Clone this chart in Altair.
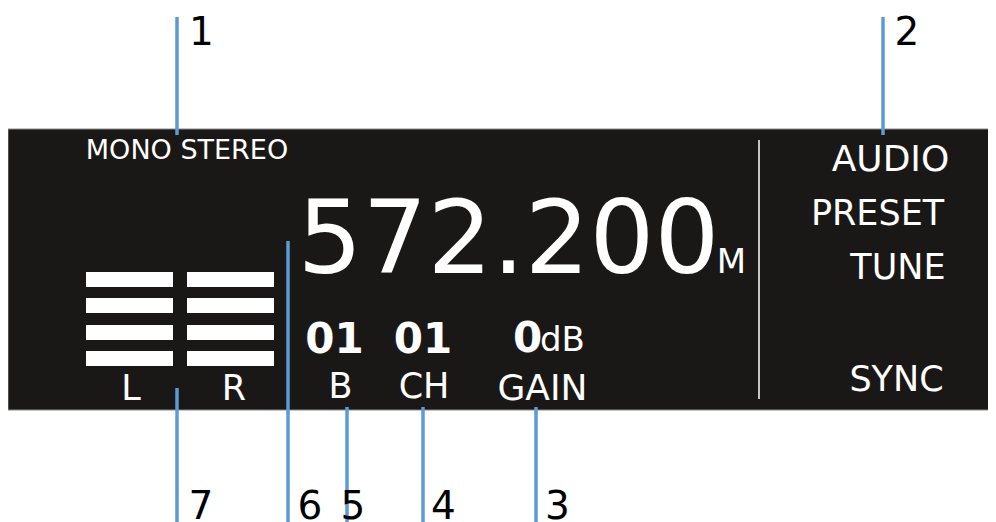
import altair as alt
import pandas as pd

# ---- display panel ----
panel_x = [8, 996]
panel_y = [129, 410]
divider_x = [759]
divider_y = [140, 399]

# ---- level meter segments (L and R columns, four rows each) ----
meter_x0 = [86, 187]
meter_x1 = [173, 274]
meter_row_top = [272, 298, 325, 351]
meter_row_bottom = [287, 313, 340, 366]

# ---- regular display texts (centred) ----
reg_text = ["MONO STEREO", "L", "R", "572.200", "M", "B", "CH", "GAIN",
            "AUDIO", "PRESET", "TUNE", "SYNC"]
reg_x = [187, 131, 234, 508.5, 731.5, 340.5, 424, 542.5, 890.5, 877.5, 898, 896.5]
reg_y = [159, 400, 400, 273, 273, 398, 398, 400, 171, 225, 279, 391]
reg_size = [27, 35, 35, 102, 34, 35, 35, 36, 36, 35, 35, 35]

# ---- unit text after the gain value (left aligned) ----
unit_text = ["dB"]
unit_x = [540]
unit_y = [351]
unit_size = [34]

# ---- bold display texts ----
bold_text = ["01", "01", "0"]
bold_x = [334.5, 423, 527.5]
bold_y = [353, 353, 352]
bold_size = [42, 42, 42]

# ---- callouts ----
callout_num = ["1", "2", "3", "4", "5", "6", "7"]
callout_line_x = [177, 883, 536, 423, 347, 288, 177]
callout_line_y0 = [17, 17, 407, 407, 407, 241, 388]
callout_line_y1 = [135, 135, 522, 522, 522, 522, 522]
callout_text_x = [201.5, 907, 557.5, 443.5, 353, 310, 201]
callout_text_y = [45, 45, 519, 519, 519, 519, 519]

FONT = "DejaVu Sans"
xs = alt.Scale(domain=[8, 988], nice=False, zero=False)
ys = alt.Scale(domain=[8, 522], nice=False, zero=False, reverse=True)

def X(f="x"):
    return alt.X(f"{f}:Q", scale=xs, axis=None)

def Y(f="y"):
    return alt.Y(f"{f}:Q", scale=ys, axis=None)

panel_df = pd.DataFrame({"x": [panel_x[0]], "x2": [panel_x[1]], "y": [panel_y[0]], "y2": [panel_y[1]]})
panel = alt.Chart(panel_df).mark_rect(color="#1a1816", stroke="#8a8a8a", strokeWidth=1).encode(
    x=X(), x2="x2:Q", y=Y(), y2="y2:Q")

div_df = pd.DataFrame({"x": divider_x, "y": [divider_y[0]], "y2": [divider_y[1]]})
divider = alt.Chart(div_df).mark_rule(color="white", strokeWidth=1.5).encode(
    x=X(), y=Y(), y2="y2:Q")

meter_rows = []
for a, b in zip(meter_x0, meter_x1):
    for t, bt in zip(meter_row_top, meter_row_bottom):
        meter_rows.append({"x": a, "x2": b, "y": t, "y2": bt})
meter = alt.Chart(pd.DataFrame(meter_rows)).mark_rect(color="white").encode(
    x=X(), x2="x2:Q", y=Y(), y2="y2:Q")

reg_df = pd.DataFrame({"t": reg_text, "x": reg_x, "y": reg_y, "s": reg_size})
reg = alt.Chart(reg_df).mark_text(color="white", font=FONT, align="center", baseline="alphabetic").encode(
    x=X(), y=Y(), text="t:N", size=alt.Size("s:Q", scale=None, legend=None))

unit_df = pd.DataFrame({"t": unit_text, "x": unit_x, "y": unit_y, "s": unit_size})
unit = alt.Chart(unit_df).mark_text(color="white", font=FONT, align="left", baseline="alphabetic").encode(
    x=X(), y=Y(), text="t:N", size=alt.Size("s:Q", scale=None, legend=None))

bold_df = pd.DataFrame({"t": bold_text, "x": bold_x, "y": bold_y, "s": bold_size})
bold = alt.Chart(bold_df).mark_text(color="white", font=FONT, fontWeight="bold", align="center",
                                    baseline="alphabetic").encode(
    x=X(), y=Y(), text="t:N", size=alt.Size("s:Q", scale=None, legend=None))

cl_df = pd.DataFrame({"x": callout_line_x, "y": callout_line_y0, "y2": callout_line_y1})
clines = alt.Chart(cl_df).mark_rule(color="#5b9bd5", strokeWidth=3.5).encode(
    x=X(), y=Y(), y2="y2:Q")

ct_df = pd.DataFrame({"t": callout_num, "x": callout_text_x, "y": callout_text_y})
ctext = alt.Chart(ct_df).mark_text(color="black", font=FONT, fontSize=39, align="center",
                                   baseline="alphabetic").encode(
    x=X(), y=Y(), text="t:N")

chart = alt.layer(panel, divider, meter, reg, unit, bold, clines, ctext).properties(
    width=980, height=514, autosize=alt.AutoSizeParams(type="none"), padding=0,
    background="white"
).configure_view(stroke=None)

chart.save("out.html", embed_options={"renderer": "svg", "actions": False})
